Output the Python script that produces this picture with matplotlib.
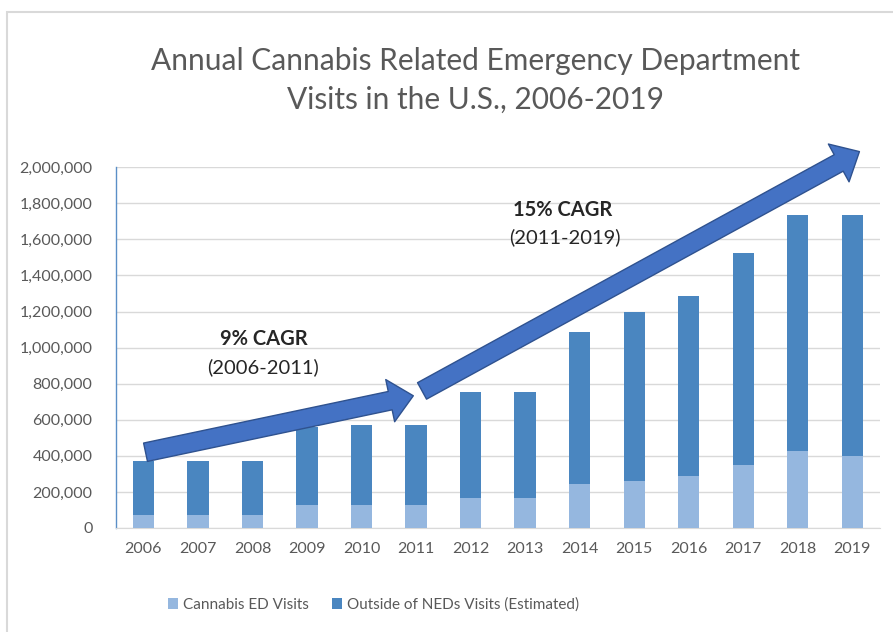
import numpy as np
import matplotlib
matplotlib.use("Agg")  # No display needed
import matplotlib.pyplot as plt
from matplotlib.patches import Rectangle
from matplotlib.ticker import FuncFormatter

plt.rcParams["font.family"] = ["Lato", "DejaVu Sans"]

# Data
years = ["2006", "2007", "2008", "2009", "2010", "2011", "2012",
         "2013", "2014", "2015", "2016", "2017", "2018", "2019"]
cannabis_ed = [72000, 72000, 72000, 128000, 128000, 128000, 168000,
               168000, 244000, 263000, 289000, 350000, 429000, 401000]
total_visits = [373000, 373000, 373000, 562000, 572000, 572000, 756000,
                756000, 1089000, 1195000, 1284000, 1524000, 1737000, 1737000]
outside_neds = [t - c for t, c in zip(total_visits, cannabis_ed)]

cagr_labels = [("9% CAGR", "(2006-2011)"), ("15% CAGR", "(2011-2019)")]

# Colours
light_blue = "#95b7df"
dark_blue = "#4a86c0"
arrow_fc = "#4472c4"
arrow_ec = "#2f528f"
grey_txt = "#595959"
grid_col = "#d9d9d9"

fig = plt.figure(figsize=(8.93, 6.32), dpi=100)
ax = fig.add_axes([0.130, 0.1646, 0.855, 0.5707])

x = np.arange(len(years))
ax.bar(x, cannabis_ed, width=0.39, color=light_blue, label="Cannabis ED Visits", zorder=3)
ax.bar(x, outside_neds, width=0.39, bottom=cannabis_ed, color=dark_blue,
       label="Outside of NEDs Visits (Estimated)", zorder=3)

ax.set_xlim(-0.5, len(years) - 0.5)
ax.set_ylim(0, 2000000)
ax.set_yticks(np.arange(0, 2000001, 200000))
ax.yaxis.set_major_formatter(FuncFormatter(lambda v, _: f"{int(v):,}"))
ax.set_xticks(x)
ax.set_xticklabels(years)
ax.tick_params(axis="both", length=0, labelsize=11.5, colors=grey_txt)
ax.tick_params(axis="x", pad=10)
ax.tick_params(axis="y", pad=17)
ax.grid(axis="y", color=grid_col, lw=1, zorder=0)
for s in ["top", "right"]:
    ax.spines[s].set_visible(False)
ax.spines["bottom"].set_color(grid_col)
ax.spines["left"].set_color("#5b8fc7")
ax.spines["left"].set_linewidth(1)

# white boxes behind the CAGR labels (they hide the gridlines)
ax.add_patch(Rectangle((1.08, 790000), 2.22, 420000, fc="white", ec="none", zorder=1))
ax.add_patch(Rectangle((6.36, 1540000), 2.47, 310000, fc="white", ec="none", zorder=1))

# growth arrows
arrow_style = "simple,head_length=1.7,head_width=3.1,tail_width=1.35"
for tail, tip in [((0.04, 420000), (4.95, 733000)), ((5.11, 760000), (13.13, 2087000))]:
    ax.annotate("", xy=tip, xytext=tail, annotation_clip=False, zorder=5,
                arrowprops=dict(arrowstyle=arrow_style, mutation_scale=10,
                                fc=arrow_fc, ec=arrow_ec, lw=1,
                                shrinkA=0, shrinkB=0))

# CAGR labels
ax.text(2.2, 1049000, cagr_labels[0][0], ha="center", va="center",
        fontsize=14.5, fontweight="bold", color="#262626", zorder=6)
ax.text(2.2, 893000, cagr_labels[0][1], ha="center", va="center",
        fontsize=14.5, color="#262626", zorder=6)
ax.text(7.69, 1765000, cagr_labels[1][0], ha="center", va="center",
        fontsize=14.5, fontweight="bold", color="#262626", zorder=6)
ax.text(7.72, 1615000, cagr_labels[1][1], ha="center", va="center",
        fontsize=14.5, color="#262626", zorder=6)

fig.text(0.533, 0.873, "Annual Cannabis Related Emergency Department\nVisits in the U.S., 2006-2019",
         ha="center", va="center", fontsize=21.5, color=grey_txt, linespacing=1.5)

leg = fig.legend(loc="center", bbox_to_anchor=(0.418, 0.043), ncol=2, frameon=False,
                 fontsize=11, handlelength=0.7, handleheight=0.7, handletextpad=0.3,
                 columnspacing=1.5)
for t in leg.get_texts():
    t.set_color(grey_txt)

# outer chart frame (only top/left visible in the crop)
fig.add_artist(Rectangle((7 / 893, -0.1), 1.2, 1 - 12 / 632 + 0.1, transform=fig.transFigure,
                         fill=False, ec="#d9d9d9", lw=1.5))

fig.savefig("out.png", dpi=100)
plt.close(fig)
